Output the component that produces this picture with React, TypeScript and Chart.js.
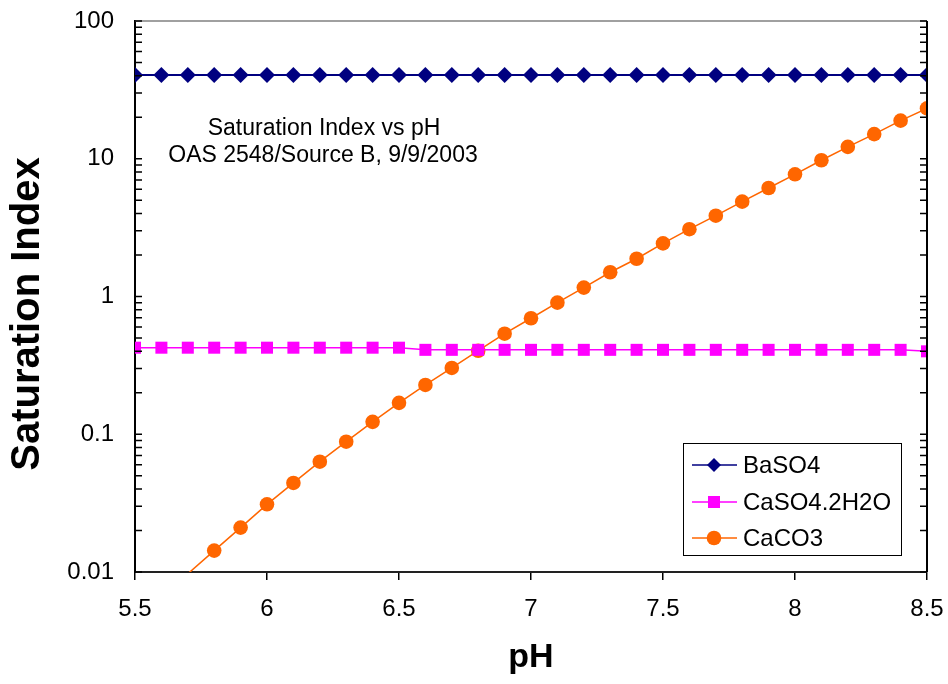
import React, { useEffect, useRef } from "react";
import { Chart, registerables } from "chart.js";

Chart.register(...registerables);

const pH = [5.5, 5.6, 5.7, 5.8, 5.9, 6.0, 6.1, 6.2, 6.3, 6.4, 6.5, 6.6, 6.7, 6.8, 6.9, 7.0, 7.1, 7.2, 7.3, 7.4, 7.5, 7.6, 7.7, 7.8, 7.9, 8.0, 8.1, 8.2, 8.3, 8.4, 8.5];

const baSO4 = [40.5, 40.5, 40.5, 40.5, 40.5, 40.5, 40.5, 40.5, 40.5, 40.5, 40.5, 40.5, 40.5, 40.5, 40.5, 40.5, 40.5, 40.5, 40.5, 40.5, 40.5, 40.5, 40.5, 40.5, 40.5, 40.5, 40.5, 40.5, 40.5, 40.5, 40.5];

const caSO4 = [0.425, 0.425, 0.425, 0.425, 0.425, 0.425, 0.425, 0.425, 0.425, 0.425, 0.425, 0.41, 0.41, 0.41, 0.41, 0.41, 0.41, 0.41, 0.41, 0.41, 0.41, 0.41, 0.41, 0.41, 0.41, 0.41, 0.41, 0.41, 0.41, 0.41, 0.40];

const caCO3 = [0.0045, 0.0066, 0.0097, 0.0143, 0.021, 0.031, 0.0443, 0.0632, 0.0883, 0.123, 0.169, 0.228, 0.303, 0.404, 0.537, 0.695, 0.902, 1.16, 1.5, 1.88, 2.43, 3.08, 3.86, 4.88, 6.13, 7.71, 9.75, 12.2, 15.1, 18.9, 23.2];

const seriesNames = ["BaSO4", "CaSO4.2H2O", "CaCO3"];
const yTickValues = [0.01, 0.1, 1, 10, 100];
const xTickLabels = ["5.5", "6", "6.5", "7", "7.5", "8", "8.5"];
const titleLines = ["Saturation Index vs pH", "OAS 2548/Source B, 9/9/2003"];
const xTitle = "pH";
const yTitle = "Saturation Index";

const FONT = "'Liberation Sans', Arial, sans-serif";
const COLORS = ["#000080", "#FF00FF", "#FF6600"];
const STYLES = ["rectRot", "rect", "circle"];

function drawMarker(ctx: CanvasRenderingContext2D, style: string, x: number, y: number, color: string) {
  ctx.fillStyle = color;
  ctx.beginPath();
  if (style === "rectRot") {
    const r = 7;
    ctx.moveTo(x, y - r);
    ctx.lineTo(x + r, y);
    ctx.lineTo(x, y + r);
    ctx.lineTo(x - r, y);
    ctx.closePath();
  } else if (style === "rect") {
    ctx.rect(x - 6, y - 6, 12, 12);
  } else {
    ctx.arc(x, y, 7.3, 0, Math.PI * 2);
  }
  ctx.fill();
}

const decorPlugin = {
  id: "decor",
  afterDraw(chart: any) {
    const { ctx, chartArea: a, scales } = chart;
    const ys = scales.y;
    ctx.save();
    // top border
    ctx.strokeStyle = "#808080";
    ctx.lineWidth = 1.5;
    ctx.beginPath();
    ctx.moveTo(a.left, a.top);
    ctx.lineTo(a.right, a.top);
    ctx.stroke();
    // right border
    ctx.strokeStyle = "#000";
    ctx.lineWidth = 2;
    ctx.beginPath();
    ctx.moveTo(a.right, a.top);
    ctx.lineTo(a.right, a.bottom);
    ctx.stroke();
    // minor / major ticks on both vertical axes (inside)
    ctx.lineWidth = 1.5;
    ctx.strokeStyle = "#000";
    const tickAt = (v: number) => {
      const py = ys.getPixelForValue(v);
      ctx.beginPath();
      ctx.moveTo(a.left, py);
      ctx.lineTo(a.left + 7, py);
      ctx.moveTo(a.right - 7, py);
      ctx.lineTo(a.right, py);
      ctx.stroke();
    };
    for (let e = -2; e <= 1; e++) {
      for (let k = 1; k <= 9; k++) tickAt(k * Math.pow(10, e));
    }
    tickAt(100);

    // axis titles
    ctx.fillStyle = "#000";
    ctx.textAlign = "center";
    ctx.textBaseline = "middle";
    ctx.font = `bold 34px ${FONT}`;
    ctx.fillText(xTitle, (a.left + a.right) / 2, 658);
    ctx.save();
    ctx.translate(28, 314);
    ctx.rotate(-Math.PI / 2);
    ctx.font = `bold 40px ${FONT}`;
    ctx.fillText(yTitle, 0, 0);
    ctx.restore();

    // annotation
    ctx.font = `23px ${FONT}`;
    ctx.fillText(titleLines[0], 324, 129);
    ctx.fillText(titleLines[1], 323, 156);

    // legend
    const lx = 683, ly = 443, lw = 218, lh = 112;
    ctx.fillStyle = "#fff";
    ctx.fillRect(lx, ly, lw, lh);
    ctx.strokeStyle = "#000";
    ctx.lineWidth = 1;
    ctx.strokeRect(lx + 0.5, ly + 0.5, lw, lh);
    const rows = [465, 502, 538];
    ctx.textAlign = "left";
    ctx.font = `24px ${FONT}`;
    seriesNames.forEach((name, i) => {
      const ry = rows[i];
      ctx.strokeStyle = COLORS[i];
      ctx.lineWidth = 1.5;
      ctx.beginPath();
      ctx.moveTo(692, ry);
      ctx.lineTo(737, ry);
      ctx.stroke();
      drawMarker(ctx, STYLES[i], 714, ry, COLORS[i]);
      ctx.fillStyle = "#000";
      ctx.fillText(name, 743, ry + 1);
    });
    ctx.restore();
  },
};

export default function App() {
  const ref = useRef<HTMLCanvasElement | null>(null);
  useEffect(() => {
    if (!ref.current) return;
    const mk = (vals: number[]) => pH.map((x, i) => ({ x, y: vals[i] }));
    const chart = new Chart(ref.current, {
      type: "line",
      data: {
        datasets: [
          {
            label: seriesNames[0],
            data: mk(baSO4),
            borderColor: COLORS[0],
            backgroundColor: COLORS[0],
            borderWidth: 2,
            pointStyle: "rectRot",
            pointRadius: 8,
            pointBorderWidth: 0,
          },
          {
            label: seriesNames[1],
            data: mk(caSO4),
            borderColor: COLORS[1],
            backgroundColor: COLORS[1],
            borderWidth: 1.5,
            pointStyle: "rect",
            pointRadius: 8.5,
            pointBorderWidth: 0,
          },
          {
            label: seriesNames[2],
            data: mk(caCO3),
            borderColor: COLORS[2],
            backgroundColor: COLORS[2],
            borderWidth: 1.5,
            pointStyle: "circle",
            pointRadius: (c: any) => (c.raw && c.raw.y < 0.01 ? 0 : 7.3),
            pointBorderWidth: 0,
          },
        ],
      },
      options: {
        responsive: false,
        animation: false,
        devicePixelRatio: 1,
        layout: { padding: { top: 21, right: 21, left: 0, bottom: 0 } },
        plugins: { legend: { display: false }, tooltip: { enabled: false } },
        elements: { line: { tension: 0 } },
        scales: {
          x: {
            type: "linear",
            min: 5.5,
            max: 8.5,
            ticks: {
              stepSize: 0.5,
              color: "#000",
              font: { family: FONT, size: 24 },
              padding: 15,
              maxRotation: 0,
              callback: (v: any) => {
                const s = String(Math.round(Number(v) * 10) / 10);
                return xTickLabels.includes(s) ? s : "";
              },
            },
            grid: { display: true, drawOnChartArea: false, drawTicks: true, tickLength: 8, color: "#000", lineWidth: 1.5 },
            border: { display: true, color: "#222", width: 2 },
            afterFit: (s: any) => {
              s.height = 112;
              s.paddingLeft = 0;
              s.paddingRight = 0;
            },
          },
          y: {
            type: "logarithmic",
            min: 0.01,
            max: 100,
            afterBuildTicks: (s: any) => {
              s.ticks = yTickValues.map((v) => ({ value: v }));
            },
            ticks: {
              color: "#000",
              font: { family: FONT, size: 24 },
              padding: 21,
              callback: (v: any) => String(v),
            },
            grid: { display: false, drawTicks: false },
            border: { display: true, color: "#000", width: 2 },
            afterFit: (s: any) => {
              s.width = 135;
              s.paddingTop = 0;
              s.paddingBottom = 0;
            },
          },
        },
      },
      plugins: [decorPlugin],
    } as any);
    return () => chart.destroy();
  }, []);
  return (
    <div style={{ position: "fixed", left: 0, top: 0, width: 948, height: 684, background: "#fff" }}>
      <canvas ref={ref} width={948} height={684} style={{ width: 948, height: 684, display: "block" }} />
    </div>
  );
}
